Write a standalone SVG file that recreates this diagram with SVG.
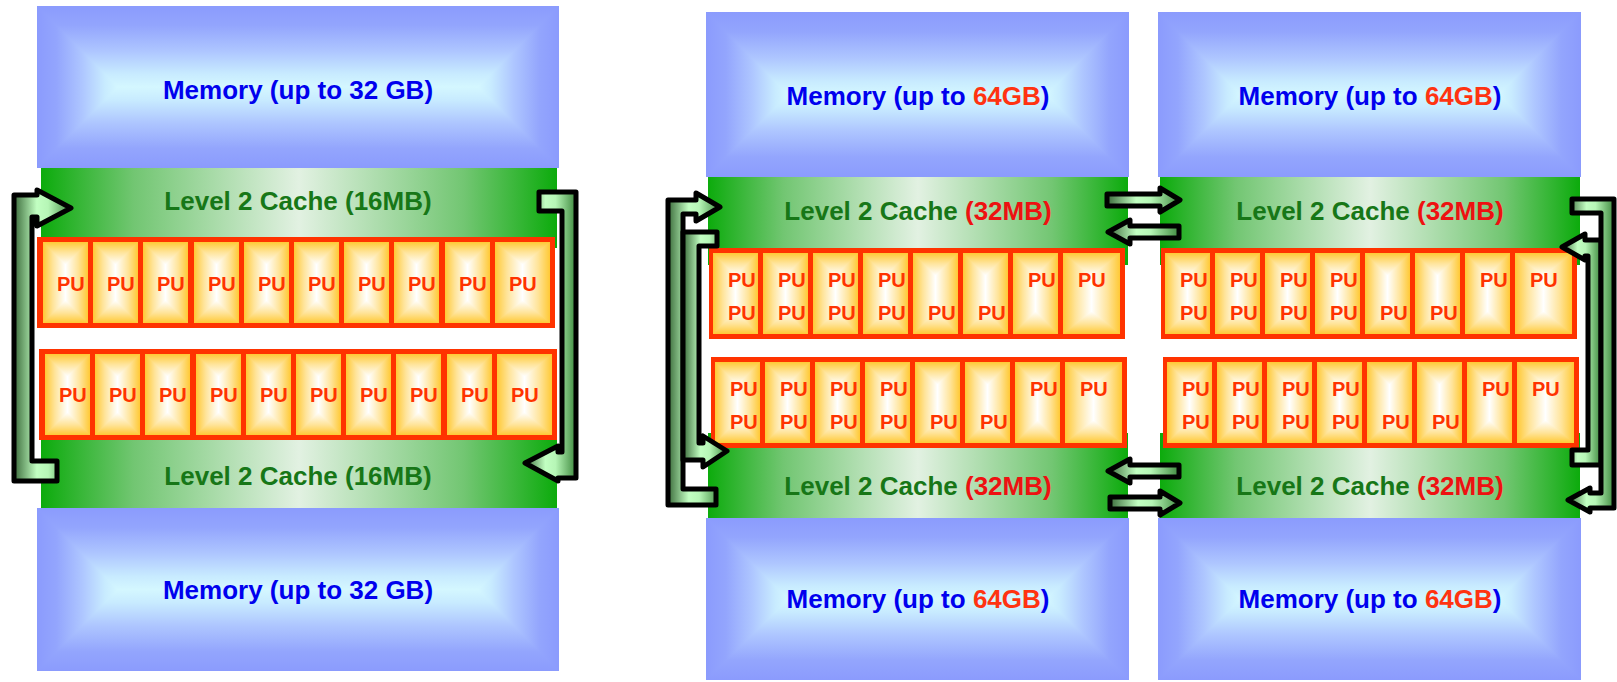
<svg xmlns="http://www.w3.org/2000/svg" xmlns:xlink="http://www.w3.org/1999/xlink" width="1617" height="682" viewBox="0 0 1617 682">
<defs>
<style>
.mem{font:bold 26px "Liberation Sans",Arial,sans-serif;fill:#0000ee;text-anchor:middle}
.l2{font:bold 26px "Liberation Sans",Arial,sans-serif;fill:#177717;text-anchor:middle}
.red{fill:#ee1111}
.org{fill:#ff3311}
.pu{font:bold 20px "Liberation Sans",Arial,sans-serif;fill:#ff3300}
.frame{fill:#ff3300}
.cell{fill:url(#puPat)}
.band{fill:url(#l2g)}
.memL{fill:url(#memPatL)}
.memR{fill:url(#memPatR)}
.conn{fill:url(#gBar);stroke:#000;stroke-width:5;stroke-linejoin:round}
</style>
<linearGradient id="mgV" x1="0" y1="0" x2="0" y2="1">
<stop offset="0" stop-color="#8b9bfd"/><stop offset="0.12" stop-color="#93a5fd"/><stop offset="0.28" stop-color="#aec6ff"/><stop offset="0.42" stop-color="#c8ebff"/><stop offset="0.5" stop-color="#d4f7ff"/><stop offset="0.58" stop-color="#c8ebff"/><stop offset="0.72" stop-color="#aec6ff"/><stop offset="0.88" stop-color="#93a5fd"/><stop offset="1" stop-color="#8b9bfd"/>
</linearGradient>
<linearGradient id="mgL" x1="0" y1="0" x2="1" y2="0">
<stop offset="0" stop-color="#8b9bfd"/><stop offset="0.24" stop-color="#93a5fd"/><stop offset="0.56" stop-color="#aec6ff"/><stop offset="0.84" stop-color="#c8ebff"/><stop offset="1" stop-color="#d4f7ff"/>
</linearGradient>
<linearGradient id="mgR" xlink:href="#mgL" x1="1" y1="0" x2="0" y2="0"/>
<pattern id="memPatL" patternUnits="objectBoundingBox" patternContentUnits="objectBoundingBox" width="1" height="1">
<rect x="0" y="0" width="1" height="1" fill="url(#mgV)"/>
<polygon points="0,0 0.155,0.5 0,1" fill="url(#mgL)"/>
<polygon points="1,0 0.845,0.5 1,1" fill="url(#mgR)"/>
</pattern>
<pattern id="memPatR" patternUnits="objectBoundingBox" patternContentUnits="objectBoundingBox" width="1" height="1">
<rect x="0" y="0" width="1" height="1" fill="url(#mgV)"/>
<polygon points="0,0 0.195,0.5 0,1" fill="url(#mgL)"/>
<polygon points="1,0 0.805,0.5 1,1" fill="url(#mgR)"/>
</pattern>
<linearGradient id="pgH" x1="0" y1="0" x2="1" y2="0">
<stop offset="0" stop-color="#ffc935"/><stop offset="0.22" stop-color="#ffe49a"/><stop offset="0.5" stop-color="#ffffff"/><stop offset="0.78" stop-color="#ffe49a"/><stop offset="1" stop-color="#ffc935"/>
</linearGradient>
<linearGradient id="pgT" x1="0" y1="0" x2="0" y2="1">
<stop offset="0" stop-color="#ffc935"/><stop offset="0.45" stop-color="#ffe49a"/><stop offset="1" stop-color="#ffffff"/>
</linearGradient>
<linearGradient id="pgB" xlink:href="#pgT" x1="0" y1="1" x2="0" y2="0"/>
<pattern id="puPat" patternUnits="objectBoundingBox" patternContentUnits="objectBoundingBox" width="1" height="1">
<rect x="0" y="0" width="1" height="1" fill="url(#pgH)"/>
<polygon points="0,0 1,0 0.5,0.281" fill="url(#pgT)"/>
<polygon points="0,1 1,1 0.5,0.719" fill="url(#pgB)"/>
</pattern>
<linearGradient id="l2g" x1="0" y1="0" x2="1" y2="0">
<stop offset="0" stop-color="#0cab0c"/><stop offset="0.18" stop-color="#72c672"/><stop offset="0.5" stop-color="#e2f1e2"/><stop offset="0.82" stop-color="#72c672"/><stop offset="1" stop-color="#0cab0c"/>
</linearGradient>
<linearGradient id="gBar" x1="0" y1="0" x2="1" y2="0">
<stop offset="0" stop-color="#3b6b3b"/><stop offset="0.4" stop-color="#c2ffc2"/><stop offset="0.6" stop-color="#b6f6b6"/><stop offset="1" stop-color="#3f8a3f"/>
</linearGradient>
</defs>

<!-- Left system -->
<g id="left-mem-top"><rect class="memL" x="37" y="6" width="522" height="162"/><text class="mem" x="298" y="99">Memory (up to 32 GB)</text></g>
<g id="left-l2-top"><rect class="band" x="41" y="168" width="516" height="80"/><text class="l2" x="298" y="210">Level 2 Cache (16MB)</text></g>
<g id="left-l2-bottom"><rect class="band" x="41" y="430" width="516" height="78"/><text class="l2" x="298" y="485">Level 2 Cache (16MB)</text></g>
<g id="left-mem-bottom"><rect class="memL" x="37" y="508" width="522" height="163"/><text class="mem" x="298" y="599">Memory (up to 32 GB)</text></g>
<g id="left-pu-row1">
<rect class="frame" x="37" y="237" width="518" height="91"/>
<rect class="cell" x="43" y="242" width="45" height="81"/><rect class="cell" x="93" y="242" width="45" height="81"/><rect class="cell" x="143" y="242" width="45" height="81"/><rect class="cell" x="194" y="242" width="45" height="81"/><rect class="cell" x="244" y="242" width="45" height="81"/><rect class="cell" x="294" y="242" width="45" height="81"/><rect class="cell" x="344" y="242" width="45" height="81"/><rect class="cell" x="394" y="242" width="45" height="81"/><rect class="cell" x="445" y="242" width="45" height="81"/><rect class="cell" x="495" y="242" width="55" height="81"/>
<text class="pu" x="57" y="291">PU</text><text class="pu" x="107" y="291">PU</text><text class="pu" x="157" y="291">PU</text><text class="pu" x="208" y="291">PU</text><text class="pu" x="258" y="291">PU</text><text class="pu" x="308" y="291">PU</text><text class="pu" x="358" y="291">PU</text><text class="pu" x="408" y="291">PU</text><text class="pu" x="459" y="291">PU</text><text class="pu" x="509" y="291">PU</text>
</g>
<g id="left-pu-row2">
<rect class="frame" x="39" y="349" width="518" height="91"/>
<rect class="cell" x="45" y="354" width="45" height="81"/><rect class="cell" x="95" y="354" width="45" height="81"/><rect class="cell" x="145" y="354" width="45" height="81"/><rect class="cell" x="196" y="354" width="45" height="81"/><rect class="cell" x="246" y="354" width="45" height="81"/><rect class="cell" x="296" y="354" width="45" height="81"/><rect class="cell" x="346" y="354" width="45" height="81"/><rect class="cell" x="396" y="354" width="45" height="81"/><rect class="cell" x="447" y="354" width="45" height="81"/><rect class="cell" x="497" y="354" width="55" height="81"/>
<text class="pu" x="59" y="402">PU</text><text class="pu" x="109" y="402">PU</text><text class="pu" x="159" y="402">PU</text><text class="pu" x="210" y="402">PU</text><text class="pu" x="260" y="402">PU</text><text class="pu" x="310" y="402">PU</text><text class="pu" x="360" y="402">PU</text><text class="pu" x="410" y="402">PU</text><text class="pu" x="461" y="402">PU</text><text class="pu" x="511" y="402">PU</text>
</g>

<!-- System A -->
<g id="a-mem-top"><rect class="memR" x="706" y="12" width="423" height="165"/><text class="mem" x="918" y="105">Memory (up to <tspan class="org">64GB</tspan>)</text></g>
<g id="a-l2-top"><rect class="band" x="708" y="177" width="420" height="88"/><text class="l2" x="918" y="220">Level 2 Cache <tspan class="red">(32MB)</tspan></text></g>
<g id="a-l2-bottom"><rect class="band" x="708" y="433" width="420" height="85"/><text class="l2" x="918" y="495">Level 2 Cache <tspan class="red">(32MB)</tspan></text></g>
<g id="a-mem-bottom"><rect class="memR" x="706" y="518" width="423" height="162"/><text class="mem" x="918" y="608">Memory (up to <tspan class="org">64GB</tspan>)</text></g>
<g id="a-pu-row1">
<rect class="frame" x="709" y="248" width="416" height="91"/>
<rect class="cell" x="713" y="253" width="45" height="81"/><rect class="cell" x="763" y="253" width="45" height="81"/><rect class="cell" x="813" y="253" width="45" height="81"/><rect class="cell" x="863" y="253" width="45" height="81"/><rect class="cell" x="913" y="253" width="45" height="81"/><rect class="cell" x="963" y="253" width="45" height="81"/><rect class="cell" x="1013" y="253" width="45" height="81"/><rect class="cell" x="1063" y="253" width="57" height="81"/>
<text class="pu" x="728" y="287">PU</text><text class="pu" x="778" y="287">PU</text><text class="pu" x="828" y="287">PU</text><text class="pu" x="878" y="287">PU</text><text class="pu" x="1028" y="287">PU</text><text class="pu" x="1078" y="287">PU</text>
<text class="pu" x="728" y="320">PU</text><text class="pu" x="778" y="320">PU</text><text class="pu" x="828" y="320">PU</text><text class="pu" x="878" y="320">PU</text><text class="pu" x="928" y="320">PU</text><text class="pu" x="978" y="320">PU</text>
</g>
<g id="a-pu-row2">
<rect class="frame" x="711" y="357" width="416" height="91"/>
<rect class="cell" x="715" y="362" width="45" height="81"/><rect class="cell" x="765" y="362" width="45" height="81"/><rect class="cell" x="815" y="362" width="45" height="81"/><rect class="cell" x="865" y="362" width="45" height="81"/><rect class="cell" x="915" y="362" width="45" height="81"/><rect class="cell" x="965" y="362" width="45" height="81"/><rect class="cell" x="1015" y="362" width="45" height="81"/><rect class="cell" x="1065" y="362" width="57" height="81"/>
<text class="pu" x="730" y="396">PU</text><text class="pu" x="780" y="396">PU</text><text class="pu" x="830" y="396">PU</text><text class="pu" x="880" y="396">PU</text><text class="pu" x="1030" y="396">PU</text><text class="pu" x="1080" y="396">PU</text>
<text class="pu" x="730" y="429">PU</text><text class="pu" x="780" y="429">PU</text><text class="pu" x="830" y="429">PU</text><text class="pu" x="880" y="429">PU</text><text class="pu" x="930" y="429">PU</text><text class="pu" x="980" y="429">PU</text>
</g>

<!-- System B -->
<g id="b-mem-top"><rect class="memR" x="1158" y="12" width="423" height="165"/><text class="mem" x="1370" y="105">Memory (up to <tspan class="org">64GB</tspan>)</text></g>
<g id="b-l2-top"><rect class="band" x="1160" y="177" width="420" height="88"/><text class="l2" x="1370" y="220">Level 2 Cache <tspan class="red">(32MB)</tspan></text></g>
<g id="b-l2-bottom"><rect class="band" x="1160" y="433" width="420" height="85"/><text class="l2" x="1370" y="495">Level 2 Cache <tspan class="red">(32MB)</tspan></text></g>
<g id="b-mem-bottom"><rect class="memR" x="1158" y="518" width="423" height="162"/><text class="mem" x="1370" y="608">Memory (up to <tspan class="org">64GB</tspan>)</text></g>
<g id="b-pu-row1">
<rect class="frame" x="1161" y="248" width="416" height="91"/>
<rect class="cell" x="1165" y="253" width="45" height="81"/><rect class="cell" x="1215" y="253" width="45" height="81"/><rect class="cell" x="1265" y="253" width="45" height="81"/><rect class="cell" x="1315" y="253" width="45" height="81"/><rect class="cell" x="1365" y="253" width="45" height="81"/><rect class="cell" x="1415" y="253" width="45" height="81"/><rect class="cell" x="1465" y="253" width="45" height="81"/><rect class="cell" x="1515" y="253" width="57" height="81"/>
<text class="pu" x="1180" y="287">PU</text><text class="pu" x="1230" y="287">PU</text><text class="pu" x="1280" y="287">PU</text><text class="pu" x="1330" y="287">PU</text><text class="pu" x="1480" y="287">PU</text><text class="pu" x="1530" y="287">PU</text>
<text class="pu" x="1180" y="320">PU</text><text class="pu" x="1230" y="320">PU</text><text class="pu" x="1280" y="320">PU</text><text class="pu" x="1330" y="320">PU</text><text class="pu" x="1380" y="320">PU</text><text class="pu" x="1430" y="320">PU</text>
</g>
<g id="b-pu-row2">
<rect class="frame" x="1163" y="357" width="416" height="91"/>
<rect class="cell" x="1167" y="362" width="45" height="81"/><rect class="cell" x="1217" y="362" width="45" height="81"/><rect class="cell" x="1267" y="362" width="45" height="81"/><rect class="cell" x="1317" y="362" width="45" height="81"/><rect class="cell" x="1367" y="362" width="45" height="81"/><rect class="cell" x="1417" y="362" width="45" height="81"/><rect class="cell" x="1467" y="362" width="45" height="81"/><rect class="cell" x="1517" y="362" width="57" height="81"/>
<text class="pu" x="1182" y="396">PU</text><text class="pu" x="1232" y="396">PU</text><text class="pu" x="1282" y="396">PU</text><text class="pu" x="1332" y="396">PU</text><text class="pu" x="1482" y="396">PU</text><text class="pu" x="1532" y="396">PU</text>
<text class="pu" x="1182" y="429">PU</text><text class="pu" x="1232" y="429">PU</text><text class="pu" x="1282" y="429">PU</text><text class="pu" x="1332" y="429">PU</text><text class="pu" x="1382" y="429">PU</text><text class="pu" x="1432" y="429">PU</text>
</g>

<g id="connectors">
<path class="conn" d="M71 208 L37 190 L37 195 L14 195 L14 481 L57 481 L57 461 L32 461 L32 217 L37 217 L37 226 Z"/>
<path class="conn" d="M539 192 L576 192 L576 478 L558 478 L558 481 L525 463 L558 446 L558 452 L562 452 L562 211 L539 211 Z"/>
<path class="conn" d="M720 207 L696 193 L696 200 L668 200 L668 505 L716 505 L716 489 L683 489 L683 214 L696 214 L696 221 Z"/>
<path class="conn" d="M717 232 L683 232 L683 460 L703 460 L703 467 L727 451 L703 436 L703 443 L699 443 L699 246 L717 246 Z"/>
<path class="conn" d="M1107 194 L1160 194 L1160 188 L1180 200 L1160 212 L1160 206 L1107 206 Z"/>
<path class="conn" d="M1108 232 L1130 220 L1130 226 L1179 226 L1179 238 L1130 238 L1130 244 Z"/>
<path class="conn" d="M1108 471 L1130 459 L1130 465 L1179 465 L1179 477 L1130 477 L1130 483 Z"/>
<path class="conn" d="M1110 497 L1160 497 L1160 491 L1180 503 L1160 515 L1160 509 L1110 509 Z"/>
<path class="conn" d="M1562 247 L1585 234 L1585 240 L1601 240 L1601 465 L1572 465 L1572 450 L1588 450 L1588 256 L1585 256 L1585 260 Z"/>
<path class="conn" d="M1572 199 L1614 199 L1614 508 L1590 508 L1590 512 L1568 500 L1590 488 L1590 493 L1601 493 L1601 213 L1572 213 Z"/>
</g>
</svg>
